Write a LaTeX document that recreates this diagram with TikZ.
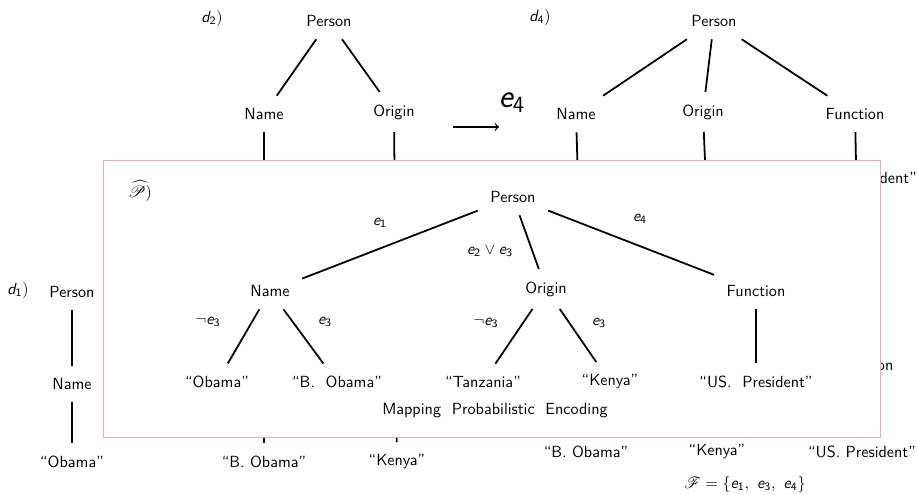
\documentclass[tikz,border=0pt]{standalone}
\usepackage{amsmath}
\usepackage{amssymb}
\usepackage{mathrsfs}
\usetikzlibrary{shapes,arrows,positioning}
% sans slanted letters and sans digits in math
\DeclareSymbolFont{sfslanted}{OT1}{cmss}{m}{sl}
\DeclareSymbolFont{sfupright}{OT1}{cmss}{m}{n}
\DeclareMathSymbol{e}{\mathalpha}{sfslanted}{`e}
\DeclareMathSymbol{d}{\mathalpha}{sfslanted}{`d}
\DeclareMathSymbol{1}{\mathalpha}{sfupright}{`1}
\DeclareMathSymbol{2}{\mathalpha}{sfupright}{`2}
\DeclareMathSymbol{3}{\mathalpha}{sfupright}{`3}
\DeclareMathSymbol{4}{\mathalpha}{sfupright}{`4}

\begin{document}
\begin{tikzpicture}[x=0.62pt,y=-0.62pt,
    every node/.style={font=\sffamily},
    attr/.style={inner sep=7.6pt},
    lbl/.style={inner sep=1pt},
    tree/.style={line width=1.1pt}]
    \clip (0,0) rectangle (918,495);

    % Document d1
    \node (l1) at (18,290) {$d_1)$};
    \node[attr] (p1) at (72,292) {Person};
    \node[attr] (p1n) at (72,384) {Name};
    \node[attr] (p1nv) at (72,462) {``Obama''};
    \draw[tree] (p1) -- (p1n);
    \draw[tree] (p1n) -- (p1nv);

    % Document d2
    \node (l2) at (212,18) {$d_2)$};
    \node[attr] (p2) at (329,21) {Person};
    \node[attr] (p2n) at (264,114) {Name};
    \node[attr] (p2o) at (394,112) {Origin};
    \node[attr] (p2nv) at (264,462) {``B. Obama''};
    \node[attr] (p2ov) at (397,462) {``Kenya''};
    \foreach \c in {n,o} {
        \draw[tree] (p2) -- (p2\c);
        \draw[tree] (p2\c) -- (p2\c v);
    }

    % Update e4
    \coordinate (a0) at (453,127);
    \coordinate (a1) at (499,127);
    \draw[->,thick] (a0) -- (a1);
    \node (upd) at (512,103) {\huge $e_4$};

    % Document d4
    \node (l4) at (540,17) {$d_4)$};
    \node[attr] (p4) at (714,21) {Person};
    \node[attr] (p4n) at (576,114) {Name};
    \node[attr] (p4o) at (703,112) {Origin};
    \node[attr] (p4f) at (855,114) {Function};
    \node[attr] (p4nv) at (586,452) {``B. Obama''};
    \node[attr] (p4ov) at (717,452) {``Kenya''};
    \node[attr] (p4fv) at (862,452) {``US. President''};
    \foreach \c in {n,o,f} {
        \draw[tree] (p4) -- (p4\c);
        \draw[tree] (p4\c) -- (p4\c v);
    }
    \node (fset) at (745,484) {$\mathscr{F} = \{e_1,\ e_3,\ e_4\}$};

    % Document d3 (mostly hidden)
    \node (p3fv) at (863,178) {``US. President''};
    \node (p3f) at (864,365) {Function};

    % Probabilistic encoding
    \filldraw[fill=white,draw=red!35] (103,160) rectangle (880,437);
    \node (lp) at (140,191) {$\widehat{\mathscr{P}})$};
    \node[attr] (pp) at (513,197) {Person};
    \node[attr] (ppn) at (270,291) {Name};
    \node[attr] (ppo) at (546,289) {Origin};
    \node[attr] (ppf) at (756,291) {Function};
    \node[attr] (ppn1) at (217,382) {``Obama''};
    \node[attr] (ppn2) at (337,382) {``B.\ \ Obama''};
    \node[attr] (ppo1) at (483,382) {``Tanzania''};
    \node[attr] (ppo2) at (610,382) {``Kenya''};
    \node[attr] (ppf1) at (756,382) {``US.\ \ President''};
    \foreach \c in {n,o,f} {
        \draw[tree] (pp) -- (pp\c);
    }
    \draw[tree] (ppn) -- (ppn1);
    \draw[tree] (ppn) -- (ppn2);
    \draw[tree] (ppo) -- (ppo1);
    \draw[tree] (ppo) -- (ppo2);
    \draw[tree] (ppf) -- (ppf1);
    \node[lbl] (e1) at (380,223) {$e_1$};
    \node[lbl] (e23) at (490,251) {$e_2 \vee e_3$};
    \node[lbl] (e4) at (640,219) {$e_4$};
    \node[lbl] (ne3a) at (208,322) {$\neg e_3$};
    \node[lbl] (e3a) at (325,322) {$e_3$};
    \node[lbl] (ne3b) at (486,323) {$\neg e_3$};
    \node[lbl] (e3b) at (599,323) {$e_3$};
    \node (cap) at (495,411) {Mapping\ \ Probabilistic\ \ Encoding};
\end{tikzpicture}
\end{document}
